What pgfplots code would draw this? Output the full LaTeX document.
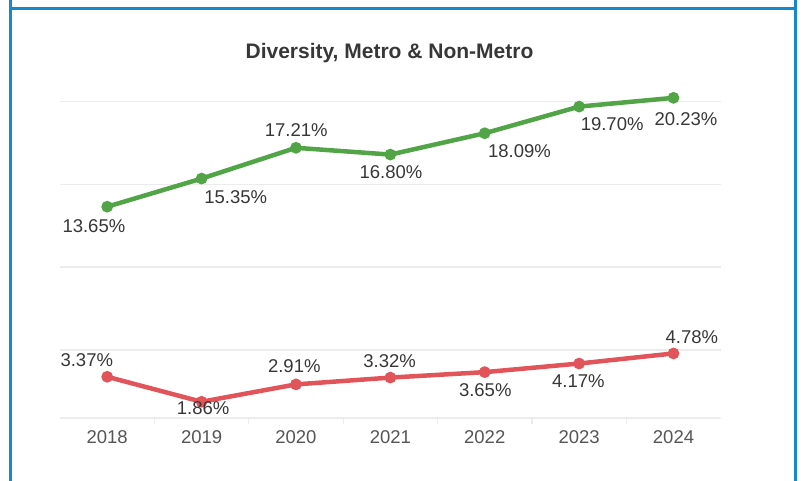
\documentclass[border=0pt]{standalone}
\usepackage{pgfplots}
\usepackage{pgfplotstable}
\pgfplotsset{compat=1.18}
\usepackage{fontspec}
\setmainfont{Liberation Sans}

\definecolor{frameblue}{RGB}{22,136,206}
\definecolor{metrogreen}{RGB}{82,165,70}
\definecolor{nonmetrored}{RGB}{225,85,90}
\definecolor{gridc}{RGB}{236,236,236}
\definecolor{labc}{RGB}{55,55,55}
\definecolor{tickc}{RGB}{85,85,85}

% year index, value, label offset (bp)
\pgfplotstableread{
x y dx dy
0 13.65 -13.3 -19
1 15.35 34.2 -19
2 17.21 0.3 17.7
3 16.80 0.7 -17.7
4 18.09 34.7 -17.7
5 19.70 33 -17.7
6 20.23 12.5 -20.8
}\metro

\pgfplotstableread{
x y dx dy
0 3.37 -20.4 16.5
1 1.86 1.5 -6
2 2.91 -1.7 18.3
3 3.32 -0.7 16.7
4 3.65 0.5 -18.3
5 4.17 -0.7 -17.3
6 4.78 18.3 16.8
}\nonmetro

\pgfplotsset{
  pctlabels/.style={
    nodes near coords={\pgfmathprintnumber[fixed,fixed zerofill,precision=2,assume math mode=true]{\pgfplotspointmeta}\%},
    visualization depends on={\thisrow{dx} \as \dx},
    visualization depends on={\thisrow{dy} \as \dy},
    every node near coord/.append style={anchor=center, inner sep=0pt,
      xshift=\dx*1bp, yshift=\dy*1bp,
      font=\fontsize{18.5bp}{22bp}\selectfont, text=labc},
  },
}

\begin{document}
\begin{tikzpicture}
\begin{axis}[
  name=ax,
  at={(0,0)}, anchor=south west,
  scale only axis,
  width=660.7bp, height=337bp,
  xmin=-0.5, xmax=6.5,
  ymin=0.86, ymax=21.23,
  axis line style={draw=none},
  xtick={0,...,6},
  xticklabels={2018,2019,2020,2021,2022,2023,2024},
  minor xtick={0.5,1.5,2.5,3.5,4.5,5.5},
  ytick={5,10,15,20},
  yticklabels={},
  ymajorgrids,
  major grid style={gridc, line width=1.6bp},
  major tick length=0pt,
  minor tick length=6bp,
  tick align=outside,
  xtick pos=bottom, ytick pos=left,
  minor tick style={gridc, line width=1.2bp},
  xticklabel style={anchor=base, inner sep=0pt, yshift=-25bp,
    font=\fontsize{18.5bp}{22bp}\selectfont, text=tickc},
]
\draw[gridc, line width=1.6bp] (rel axis cs:0,0) -- (rel axis cs:1,0);
\addplot[metrogreen, line width=4.5bp, mark=*, mark size=3.5bp,
  mark options={solid}, pctlabels] table[x=x, y=y] {\metro};
\addplot[nonmetrored, line width=4.5bp, mark=*, mark size=3.5bp,
  mark options={solid}, pctlabels] table[x=x, y=y] {\nonmetro};
\end{axis}
\path (ax.south west) ++(-60bp,-62.7bp) coordinate (BL);
\begin{scope}[shift={(BL)}, x=1bp, y=1bp]
\draw[frameblue, line width=3bp] (10.5,0) -- (10.5,481);
\draw[frameblue, line width=3bp] (795,0) -- (795,481);
\draw[frameblue, line width=3bp] (10.5,472.7) -- (795,472.7);
\node[font=\bfseries\fontsize{21bp}{25bp}\selectfont, text=labc] at (389.5,428) {Diversity, Metro \& Non-Metro};
\end{scope}
\pgfresetboundingbox
\useasboundingbox (BL) rectangle ++(803bp,481bp);
\end{tikzpicture}
\end{document}
